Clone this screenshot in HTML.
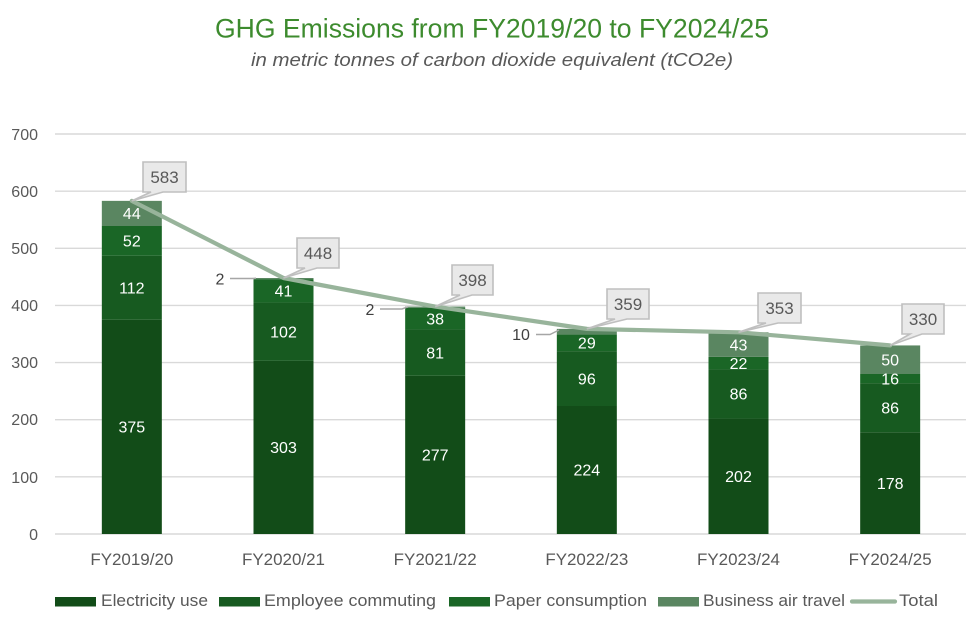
<!DOCTYPE html>
<html>
<head>
<meta charset="utf-8">
<style>
html,body{margin:0;padding:0;background:#fff;}
svg{display:block;}
text{font-family:"Liberation Sans",sans-serif;}
</style>
</head>
<body>
<svg width="978" height="627" viewBox="0 0 978 627" xmlns="http://www.w3.org/2000/svg">
<rect width="978" height="627" fill="#fff"/>
<!-- title -->
<text x="215" y="37.5" font-size="26.5" fill="#3d8b2e" textLength="554" lengthAdjust="spacingAndGlyphs">GHG Emissions from FY2019/20 to FY2024/25</text>
<text x="251" y="66" font-size="18.5" font-style="italic" fill="#595959" textLength="482" lengthAdjust="spacingAndGlyphs">in metric tonnes of carbon dioxide equivalent (tCO2e)</text>

<!-- gridlines -->
<g stroke="#d9d9d9" stroke-width="1.4">
<line x1="55" x2="966" y1="134" y2="134"/>
<line x1="55" x2="966" y1="191.14" y2="191.14"/>
<line x1="55" x2="966" y1="248.29" y2="248.29"/>
<line x1="55" x2="966" y1="305.43" y2="305.43"/>
<line x1="55" x2="966" y1="362.57" y2="362.57"/>
<line x1="55" x2="966" y1="419.71" y2="419.71"/>
<line x1="55" x2="966" y1="476.86" y2="476.86"/>
<line x1="55" x2="966" y1="534" y2="534"/>
</g>
<!-- y labels -->
<g font-size="16" fill="#595959" text-anchor="end">
<text x="38" y="140">700</text>
<text x="38" y="197">600</text>
<text x="38" y="254">500</text>
<text x="38" y="311">400</text>
<text x="38" y="368">300</text>
<text x="38" y="425">200</text>
<text x="38" y="483">100</text>
<text x="38" y="540">0</text>
</g>

<!-- bars -->
<g>
<!-- bar1 -->
<rect x="101.83" y="319.71" width="60" height="214.29" fill="#124c18"/>
<rect x="101.83" y="255.71" width="60" height="64" fill="#175a20"/>
<rect x="101.83" y="226" width="60" height="29.71" fill="#1a6626"/>
<rect x="101.83" y="200.86" width="60" height="25.14" fill="#5a8661"/>
<!-- bar2 -->
<rect x="253.5" y="360.86" width="60" height="173.14" fill="#124c18"/>
<rect x="253.5" y="302.57" width="60" height="58.29" fill="#175a20"/>
<rect x="253.5" y="279.14" width="60" height="23.43" fill="#1a6626"/>
<rect x="253.5" y="278" width="60" height="1.14" fill="#5a8661"/>
<!-- bar3 -->
<rect x="405.17" y="375.71" width="60" height="158.29" fill="#124c18"/>
<rect x="405.17" y="329.43" width="60" height="46.28" fill="#175a20"/>
<rect x="405.17" y="307.71" width="60" height="21.72" fill="#1a6626"/>
<rect x="405.17" y="306.57" width="60" height="1.14" fill="#5a8661"/>
<!-- bar4 -->
<rect x="556.83" y="406" width="60" height="128" fill="#124c18"/>
<rect x="556.83" y="351.14" width="60" height="54.86" fill="#175a20"/>
<rect x="556.83" y="334.57" width="60" height="16.57" fill="#1a6626"/>
<rect x="556.83" y="328.86" width="60" height="5.71" fill="#5a8661"/>
<!-- bar5 -->
<rect x="708.5" y="418.57" width="60" height="115.43" fill="#124c18"/>
<rect x="708.5" y="369.43" width="60" height="49.14" fill="#175a20"/>
<rect x="708.5" y="356.86" width="60" height="12.57" fill="#1a6626"/>
<rect x="708.5" y="332.29" width="60" height="24.57" fill="#5a8661"/>
<!-- bar6 -->
<rect x="860.17" y="432.29" width="60" height="101.71" fill="#124c18"/>
<rect x="860.17" y="383.14" width="60" height="49.15" fill="#175a20"/>
<rect x="860.17" y="374" width="60" height="9.14" fill="#1a6626"/>
<rect x="860.17" y="345.43" width="60" height="28.57" fill="#5a8661"/>
</g>

<!-- bar labels -->
<g font-size="16" fill="#ffffff" text-anchor="middle">
<text x="131.83" y="432.6">375</text>
<text x="131.83" y="293.4">112</text>
<text x="131.83" y="246.6">52</text>
<text x="131.83" y="219.1">44</text>

<text x="283.5" y="453">303</text>
<text x="283.5" y="337.4">102</text>
<text x="283.5" y="296.6">41</text>

<text x="435.17" y="460.6">277</text>
<text x="435.17" y="358.3">81</text>
<text x="435.17" y="324.3">38</text>

<text x="586.83" y="475.7">224</text>
<text x="586.83" y="384.3">96</text>
<text x="586.83" y="348.6">29</text>

<text x="738.5" y="482">202</text>
<text x="738.5" y="399.7">86</text>
<text x="738.5" y="368.8">22</text>
<text x="738.5" y="350.3">43</text>

<text x="890.17" y="488.8">178</text>
<text x="890.17" y="413.4">86</text>
<text x="890.17" y="384.3">16</text>
<text x="890.17" y="365.4">50</text>
</g>

<!-- outside labels with leader lines -->
<g stroke="#a6a6a6" stroke-width="1.5" fill="none">
<polyline points="230,278.5 252,278.5 256,278.3"/>
<polyline points="380,309 402,309 408,306.8"/>
<polyline points="536,334.5 550,334.5 559,330"/>
</g>
<g font-size="16" fill="#404040" text-anchor="middle">
<text x="220" y="284.5">2</text>
<text x="370" y="315">2</text>
<text x="521" y="340">10</text>
</g>

<!-- total line -->
<polyline points="131.83,200.86 283.5,278 435.17,306.57 586.83,328.86 738.5,332.29 890.17,345.43" fill="none" stroke="#98b49b" stroke-width="4.2" stroke-linejoin="round" stroke-linecap="round"/>

<!-- callouts -->
<g fill="#e9e9e9" stroke="#bfbfbf" stroke-width="1.6">
<path d="M143,162 H186 V192 H163 L131.83,200.86 L151,192 H143 Z"/>
<path d="M297,238 H339 V268 H317 L283.5,278 L305,268 H297 Z"/>
<path d="M452,265 H493 V295 H472 L435.17,306.57 L460,295 H452 Z"/>
<path d="M607,289 H649 V319 H627 L586.83,328.86 L615,319 H607 Z"/>
<path d="M758,293 H801 V323 H778 L738.5,332.29 L766,323 H758 Z"/>
<path d="M902,304 H944 V334 H922 L890.17,345.43 L910,334 H902 Z"/>
</g>
<g font-size="17" fill="#595959" text-anchor="middle">
<text x="164.5" y="183">583</text>
<text x="318" y="259">448</text>
<text x="472.5" y="286">398</text>
<text x="628" y="310">359</text>
<text x="779.5" y="314">353</text>
<text x="923" y="325">330</text>
</g>

<!-- x labels -->
<g font-size="17" fill="#595959" text-anchor="middle">
<text x="131.83" y="565" textLength="83" lengthAdjust="spacingAndGlyphs">FY2019/20</text>
<text x="283.5" y="565" textLength="83" lengthAdjust="spacingAndGlyphs">FY2020/21</text>
<text x="435.17" y="565" textLength="83" lengthAdjust="spacingAndGlyphs">FY2021/22</text>
<text x="586.83" y="565" textLength="83" lengthAdjust="spacingAndGlyphs">FY2022/23</text>
<text x="738.5" y="565" textLength="83" lengthAdjust="spacingAndGlyphs">FY2023/24</text>
<text x="890.17" y="565" textLength="83" lengthAdjust="spacingAndGlyphs">FY2024/25</text>
</g>

<!-- legend -->
<rect x="55" y="597" width="41" height="9.5" fill="#124c18"/>
<rect x="219" y="597" width="41" height="9.5" fill="#175a20"/>
<rect x="449" y="597" width="41" height="9.5" fill="#1a6626"/>
<rect x="658" y="597" width="41" height="9.5" fill="#5a8661"/>
<line x1="852" y1="601.5" x2="895" y2="601.5" stroke="#98b49b" stroke-width="4.2" stroke-linecap="round"/>
<g font-size="17" fill="#595959">
<text x="101" y="606" textLength="107" lengthAdjust="spacingAndGlyphs">Electricity use</text>
<text x="264" y="606" textLength="172" lengthAdjust="spacingAndGlyphs">Employee commuting</text>
<text x="494" y="606" textLength="153" lengthAdjust="spacingAndGlyphs">Paper consumption</text>
<text x="703" y="606" textLength="142" lengthAdjust="spacingAndGlyphs">Business air travel</text>
<text x="899" y="606" textLength="39" lengthAdjust="spacingAndGlyphs">Total</text>
</g>
</svg>
</body>
</html>
